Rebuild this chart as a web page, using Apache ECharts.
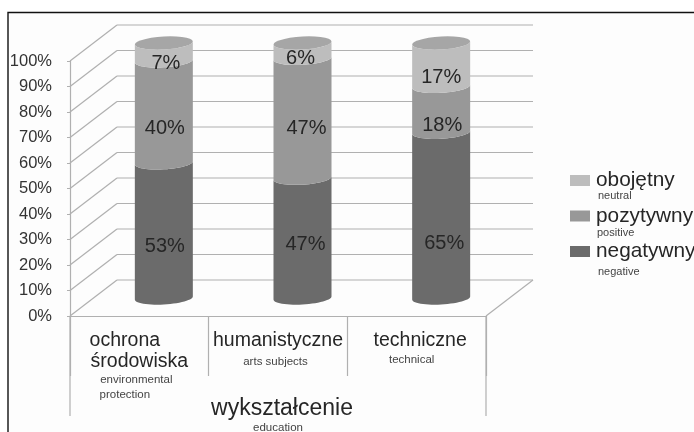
<!DOCTYPE html>
<html>
<head>
<meta charset="utf-8">
<style>html,body{margin:0;padding:0;background:#fff}#c{width:694px;height:432px;filter:blur(0.45px)}</style>
<script src="https://cdn.jsdelivr.net/npm/echarts@6/dist/echarts.min.js"></script>
</head>
<body>
<div id="c"></div>
<script>
var categories = ['ochrona\nśrodowiska', 'humanistyczne', 'techniczne'];
var categoriesEn = ['environmental\nprotection', 'arts subjects', 'technical'];
var negatywny = [53, 47, 65];
var pozytywny = [40, 47, 18];
var obojetny = [7, 6, 17];
var yTicks = [0, 10, 20, 30, 40, 50, 60, 70, 80, 90, 100];
var seriesNames = ['negatywny', 'pozytywny', 'obojętny'];
var seriesNamesEn = ['negative', 'positive', 'neutral'];

var FONT = '"Liberation Sans", Arial, sans-serif';
var GREY = '#b0b0b0', INK = '#262626';
var DEPTH_X = 47, DEPTH_Y = -36;
var CYL_DX = 24.5, CYL_DY = -18, RX = 29, RY = 6.5, TILT = 1.6;
var COLORS = ['#6b6b6b', '#989898', '#bdbdbd'];
var CAP = '#a6a6a6';
var LABEL_NUDGE = [
  [[1, 16], [1, 17], [2, 12]],
  [[3, 6], [4, 10], [-2, 8]],
  [[3, 28], [1, 16], [0, 13]]
];
var stacks = [negatywny, pozytywny, obojetny];

function ring(cx, cy, from, to) {
  var pts = [], n = 28;
  for (var i = 0; i <= n; i++) {
    var t = from + (to - from) * i / n;
    pts.push([cx + RX * Math.cos(t), cy + RY * Math.sin(t) - TILT * Math.cos(t)]);
  }
  return pts;
}

function cylinderSeries(s) {
  var values = stacks[s];
  return {
    type: 'custom', name: seriesNames[s], z: 3,
    itemStyle: { color: COLORS[s], borderWidth: 0 },
    encode: { x: 0, y: 1 },
    data: values.map(function (v, i) { return [i, v]; }),
    renderItem: function (params, api) {
      var i = api.value(0), v = api.value(1), base = 0;
      for (var k = 0; k < s; k++) base += stacks[k][i];
      var low = api.coord([i, base]), high = api.coord([i, base + v]);
      var cx = low[0] + CYL_DX, y0 = low[1] + CYL_DY, y1 = high[1] + CYL_DY;
      var pts = ring(cx, y1, Math.PI, 0).concat(ring(cx, y0, 0, Math.PI));
      var nudge = LABEL_NUDGE[i][s], midY = (y0 + y1) / 2 + nudge[1];
      var kids = [{ type: 'polygon', shape: { points: pts }, style: { fill: COLORS[s] } }];
      if (s === 2) {
        kids.push({ type: 'polygon', shape: { points: ring(cx, y1, 0, Math.PI * 2) }, style: { fill: CAP } });
      }
      kids.push({
        type: 'text', z2: 10,
        style: {
          text: v + '%', x: cx + nudge[0], y: midY, align: 'center', verticalAlign: 'middle',
          fontSize: 20, fontFamily: FONT, fill: INK
        }
      });
      return { type: 'group', children: kids };
    }
  };
}

var wallSeries = {
  type: 'custom', silent: true, z: 1,
  encode: { y: 0 },
  data: yTicks.map(function (t) { return [t]; }),
  renderItem: function (params, api) {
    var v = api.value(0), band = api.size([1, 0])[0];
    var a = api.coord([0, v]), b = api.coord([2, v]);
    var left = a[0] - band / 2, right = b[0] + band / 2, y = a[1];
    var line = { stroke: GREY, lineWidth: 1.2 };
    var kids = [
      { type: 'line', shape: { x1: left, y1: y, x2: left + DEPTH_X, y2: y + DEPTH_Y }, style: line },
      { type: 'line', shape: { x1: left + DEPTH_X, y1: y + DEPTH_Y, x2: right + DEPTH_X, y2: y + DEPTH_Y }, style: line }
    ];
    if (v === 0) {
      kids.push({ type: 'line', shape: { x1: right, y1: y, x2: right + DEPTH_X, y2: y + DEPTH_Y }, style: line });
      kids.push({ type: 'line', shape: { x1: left, y1: y, x2: left, y2: y + 100 }, style: line });
      kids.push({ type: 'line', shape: { x1: right, y1: y, x2: right, y2: y + 100 }, style: line });
    }
    return { type: 'group', children: kids };
  }
};

function xLabel(value, index) {
  if (index === 0) {
    return '{bigL|ochrona}\n{big|środowiska}\n{small|environmental}\n{smallL|protection}';
  }
  if (index === 1) {
    return '{big1|' + categories[1] + '}\n{small1|' + categoriesEn[1] + '}';
  }
  return '{big2|' + categories[2] + '}\n{small2|' + categoriesEn[2] + '}';
}

var BIG = { fontSize: 19.5, lineHeight: 21, fontFamily: FONT, color: INK };
var SMALL = { fontSize: 11.5, lineHeight: 15, fontFamily: FONT, color: '#444' };
function ext(a, b) { return Object.assign({}, a, b); }

var chart = echarts.init(document.getElementById('c'), null, { width: 694, height: 432 });
chart.setOption({
  animation: false,
  backgroundColor: '#ffffff',
  textStyle: { fontFamily: FONT },
  grid: { left: 70, right: 208, top: 61, bottom: 116, containLabel: false, outerBoundsMode: 'none' },
  xAxis: {
    type: 'category',
    data: categories,
    boundaryGap: true,
    axisLine: { lineStyle: { color: GREY, width: 1.2 } },
    axisTick: { show: true, length: 60, alignWithLabel: false, lineStyle: { color: GREY, width: 1.2 } },
    axisLabel: {
      interval: 0, margin: 14, formatter: xLabel, hideOverlap: false,
      rich: {
        big: BIG,
        bigL: ext(BIG, { padding: [0, 29, 0, 0] }),
        small: ext(SMALL, { padding: [0, 6, 0, 0] }),
        smallL: ext(SMALL, { padding: [0, 29, 0, 0] }),
        big1: BIG,
        small1: ext(SMALL, { padding: [6, 5, 0, 0] }),
        big2: ext(BIG, { padding: [0, 0, 0, 7] }),
        small2: ext(SMALL, { padding: [3, 10, 0, 0] })
      }
    },
    name: '{big|wykształcenie}\n{small|education}',
    nameLocation: 'middle',
    nameGap: 80,
    nameMoveOverlap: false,
    nameTextStyle: {
      rich: {
        big: { fontSize: 23, lineHeight: 25, fontFamily: FONT, color: INK, padding: [0, 0, 0, 8] },
        small: { fontSize: 11.5, lineHeight: 13, fontFamily: FONT, color: '#444' }
      }
    }
  },
  yAxis: {
    type: 'value', min: 0, max: 100, interval: 10,
    axisLine: { show: true, lineStyle: { color: GREY, width: 1.2 } },
    axisTick: { show: true, length: 3, lineStyle: { color: GREY } },
    splitLine: { show: false },
    axisLabel: {
      margin: 18, fontSize: 16.5, color: '#333', fontFamily: FONT,
      formatter: function (v) { return v + '%'; }
    }
  },
  legend: {
    orient: 'vertical', left: 565, top: 165,
    data: seriesNames.slice().reverse(),
    icon: 'rect', itemWidth: 20, itemHeight: 11, itemGap: 14.5,
    selectedMode: false,
    textStyle: { fontSize: 20.8, color: INK, fontFamily: FONT, padding: [0, 0, 0, 1] }
  },
  graphic: [
    { type: 'rect', z: -10, silent: true, shape: { x: 8, y: 12.5, width: 700, height: 430 },
      style: { fill: '#fdfdfd', stroke: '#111', lineWidth: 1.4 } },
    { type: 'text', left: 598, top: 190, silent: true,
      style: { text: seriesNamesEn[2], fontSize: 11, fontFamily: FONT, fill: '#444' } },
    { type: 'text', left: 597, top: 227, silent: true,
      style: { text: seriesNamesEn[1], fontSize: 11, fontFamily: FONT, fill: '#444' } },
    { type: 'text', left: 598, top: 266, silent: true,
      style: { text: seriesNamesEn[0], fontSize: 11, fontFamily: FONT, fill: '#444' } }
  ],
  series: [wallSeries, cylinderSeries(0), cylinderSeries(1), cylinderSeries(2)]
});
</script>
</body>
</html>
